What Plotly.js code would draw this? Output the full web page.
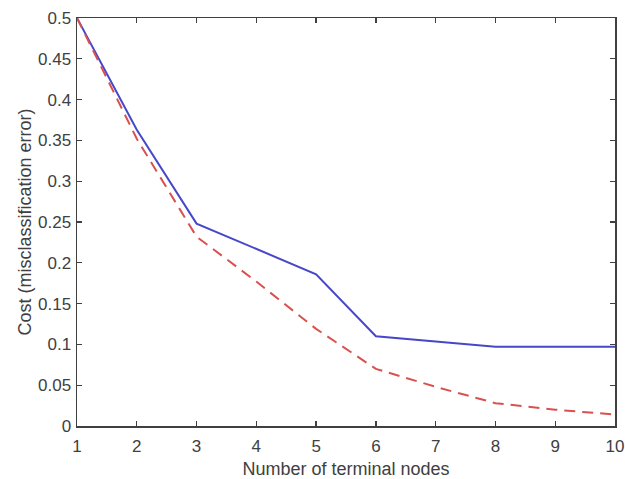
<!DOCTYPE html>
<html>
<head>
<meta charset="utf-8">
<script src="https://cdn.plot.ly/plotly-3.0.1.min.js"></script>
<style>
  html, body { margin: 0; padding: 0; background: #ffffff; }
  #chart { width: 625px; height: 479px; }
</style>
</head>
<body>
<div id="chart"></div>
<script>
// Data
const xBlue = [1, 2, 3, 5, 6, 8, 10];
const costBlue = [0.5, 0.363, 0.248, 0.186, 0.110, 0.097, 0.097];

const xRed = [1, 2, 3, 4, 5, 6, 7, 8, 9, 10];
const costRed = [0.5, 0.352, 0.232, 0.177, 0.119, 0.070, 0.048, 0.028, 0.020, 0.014];

const xTickVals = [1, 2, 3, 4, 5, 6, 7, 8, 9, 10];
const xTickText = ['1', '2', '3', '4', '5', '6', '7', '8', '9', '10'];
const yTickVals = [0, 0.05, 0.1, 0.15, 0.2, 0.25, 0.3, 0.35, 0.4, 0.45, 0.5];
const yTickText = ['0', '0.05', '0.1', '0.15', '0.2', '0.25', '0.3', '0.35', '0.4', '0.45', '0.5'];

const xTitle = 'Number of terminal nodes';
const yTitle = 'Cost (misclassification error)';

const axisColor = '#404040';
const textColor = '#404040';
const fontFamily = '"Liberation Sans", Arial, sans-serif';

const traces = [
  {
    x: xBlue, y: costBlue, type: 'scatter', mode: 'lines',
    line: { color: '#4747c9', width: 2 },
    showlegend: false, hoverinfo: 'skip'
  },
  {
    x: xRed, y: costRed, type: 'scatter', mode: 'lines',
    line: { color: '#d9514f', width: 2, dash: '11px,7px' },
    showlegend: false, hoverinfo: 'skip'
  }
];

const axisCommon = {
  showgrid: false, zeroline: false,
  showline: true, linecolor: axisColor, linewidth: 1.5,
  mirror: 'ticks', ticks: 'inside', ticklen: 5, tickwidth: 1.3, tickcolor: axisColor,
  tickfont: { family: fontFamily, size: 17, color: textColor },
  automargin: false
};

const layout = {
  width: 625, height: 479,
  margin: { l: 77, r: 10, t: 18, b: 53 },
  paper_bgcolor: '#ffffff', plot_bgcolor: '#ffffff',
  font: { family: fontFamily, color: textColor },
  xaxis: Object.assign({}, axisCommon, {
    range: [1, 10], tickmode: 'array', tickvals: xTickVals, ticktext: xTickText,
    ticklabelstandoff: 4,
    title: { text: xTitle, font: { family: fontFamily, size: 18, color: textColor } }
  }),
  yaxis: Object.assign({}, axisCommon, {
    range: [0, 0.5], tickmode: 'array', tickvals: yTickVals, ticktext: yTickText,
    ticklabelstandoff: 1,
    title: { text: yTitle, font: { family: fontFamily, size: 18, color: textColor } }
  })
};

Plotly.newPlot('chart', traces, layout, { displayModeBar: false, staticPlot: true });
</script>
</body>
</html>
